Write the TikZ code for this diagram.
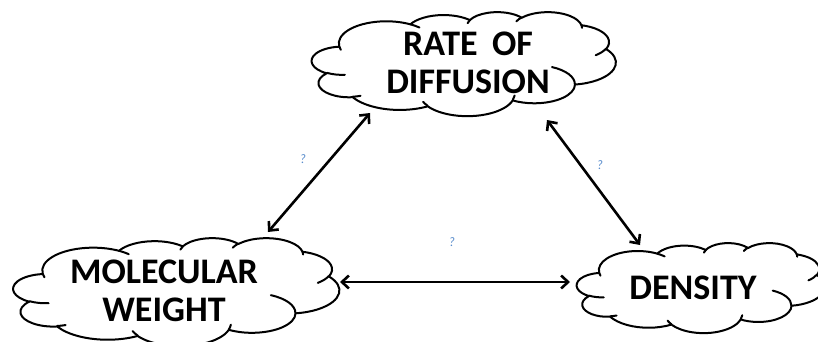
\documentclass[tikz,border=0pt]{standalone}
\usepackage{fontspec}
\setmainfont{Carlito}
\usetikzlibrary{arrows.meta}
\definecolor{qblue}{rgb}{0.35,0.55,0.8}

% one lobe of the cloud: x radius, y radius, start angle, sweep (angles seen on the ellipse)
\newcommand\lobe[4]{arc[x radius=#1, y radius=#2,
  start angle={#3+atan((#1/#2-1)*sin(#3)*cos(#3)/(cos(#3)^2+(#1/#2)*sin(#3)^2))},
  end angle={#3+#4+atan((#1/#2-1)*sin(#3+#4)*cos(#3+#4)/(cos(#3+#4)^2+(#1/#2)*sin(#3+#4)^2))}]}

% cloud outline in a 432 x 432 box, stretched over the node #1 (width #2, height #3)
\newcommand\cloudover[3]{%
\begin{scope}[shift={(#1.north west)}, xscale=#2/432, yscale=#3/432]
\draw [cloudline] (39,143.7) \lobe{67.53}{91.90}{-190.487}{123.781}
  \lobe{53.33}{72.67}{-144.102}{89.945} \lobe{43.65}{59.45}{-145.808}{99.723}
  \lobe{48.57}{65.95}{-130.986}{117.242} \lobe{53.33}{72.73}{-78.709}{109.027}
  \lobe{67.75}{92.20}{-46.267}{130.269} \lobe{57.85}{78.67}{0.625}{114.033}
  \lobe{67.52}{92.15}{22.452}{115.173} \lobe{77.20}{105.43}{66.243}{75.711}
  \lobe{43.60}{59.18}{-274.942}{146.736} \lobe{43.45}{59.45}{-246.829}{152.519} -- cycle;
\draw [cloudline] (46.93,261.77) \lobe{43.45}{59.45}{86.742}{26.430}
  (69.28,348.99) \lobe{43.60}{59.18}{73.610}{11.447}
  (164.78,390.90) \lobe{67.52}{92.15}{137.624}{14.081}
  (288.27,347.51) \lobe{67.52}{92.15}{6.453}{15.998}
  (341.29,229.54) \lobe{57.85}{78.67}{-70.292}{70.917}
  (417.98,153.54) \lobe{53.33}{72.73}{30.318}{27.752}
  (383.24,54.26) \lobe{48.57}{65.95}{-13.744}{14.851}
  (290.78,39.52) \lobe{48.57}{65.95}{-149.181}{18.188}
  (221.41,47.20) \lobe{43.65}{59.45}{-163.494}{17.696}
  (140.00,51.92) \lobe{67.53}{91.90}{-66.707}{12.319}
  (41.27,157.89) \lobe{67.53}{91.90}{157.654}{11.858};
\end{scope}}

\begin{document}
\begin{tikzpicture}[x=1pt,y=-1pt,
  cloudbox/.style={rectangle, inner sep=0pt},
  cloudline/.style={line width=2pt, line join=round, line cap=round},
  caption/.style={align=center, font=\fontsize{36}{38}\selectfont\bfseries},
  link/.style={line width=2.6pt, {Straight Barb[length=7pt,width=13pt]}-{Straight Barb[length=7pt,width=13pt]}},
  query/.style={text=qblue, font=\fontsize{13}{13}\selectfont\itshape}]
\useasboundingbox (0,0) rectangle (818,342);
\node [cloudbox, minimum width=304pt, minimum height=104pt] (rate) at (464,64) {};
\node [cloudbox, minimum width=326pt, minimum height=108pt] (mw) at (176.5,292) {};
\node [cloudbox, minimum width=248pt, minimum height=90pt] (dens) at (701,288) {};
\cloudover{rate}{304}{104}
\cloudover{mw}{326}{108}
\cloudover{dens}{248}{90}
\node [caption] (ratetext) at (468,63) {RATE\hspace{0.4em}OF\\DIFFUSION};
\node [caption] (mwtext) at (164,291) {MOLECULAR\\WEIGHT};
\node [caption] (denstext) at (693,288) {DENSITY};
\draw [link] ([shift={(91.5,-60)}]mw.center) -- ([shift={(-94,49)}]rate.center);
\draw [link] ([shift={(83,56)}]rate.center) -- ([shift={(-61,-43)}]dens.center);
\draw [link] ([shift={(163.5,-10)}]mw.center) -- ([shift={(-131,-6)}]dens.center);
\node [query] (q1) at (303,159) {?};
\node [query] (q2) at (600,165) {?};
\node [query] (q3) at (452,242) {?};
\end{tikzpicture}
\end{document}
